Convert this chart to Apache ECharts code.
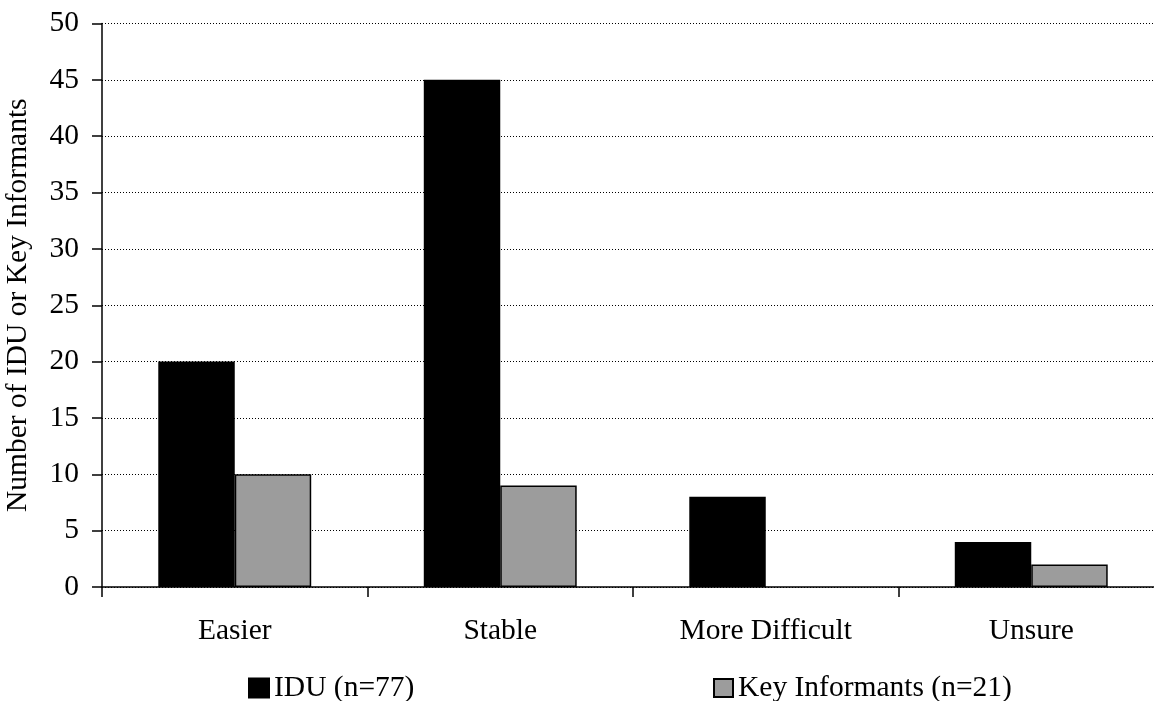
<!DOCTYPE html>
<html>
<head>
<meta charset="utf-8">
<script src="https://cdn.jsdelivr.net/npm/echarts@6/dist/echarts.min.js"></script>
<style>
  html, body { margin: 0; padding: 0; background: #fff; }
  #chart { width: 1154px; height: 701px; }
</style>
</head>
<body>
<div id="chart"></div>
<script>
// Outlook categories and respondent counts
const categories = ['Easier', 'Stable', 'More Difficult', 'Unsure'];
const iduCounts = [20, 45, 8, 4];
const keyInformantCounts = [10, 9, 0, 2];
const seriesNames = ['IDU (n=77)', 'Key Informants (n=21)'];
const yTicks = { min: 0, max: 50, step: 5 };
const yTitle = 'Number of IDU or Key Informants';

const FONT = '"Liberation Serif", "Times New Roman", serif';
const FS = 29.5;
const chart = echarts.init(document.getElementById('chart'), null, { renderer: 'canvas' });

const legendText = { fontFamily: FONT, fontSize: FS, color: '#000' };

// zero-valued bars get no outline so nothing shows on the baseline
function toBarData(values) {
  return values.map(v => v === 0
    ? { value: v, itemStyle: { borderWidth: 0 } }
    : v);
}

chart.setOption({
  animation: false,
  backgroundColor: '#fff',
  textStyle: { fontFamily: FONT, color: '#000' },
  grid: {
    left: 102, right: -10, top: 23.5, bottom: 114,
    containLabel: false, outerBoundsMode: 'none'
  },
  legend: [
    {
      data: [seriesNames[0]], left: 248, top: 673, padding: 0,
      itemWidth: 20, itemHeight: 19, itemGap: 6, icon: 'rect',
      textStyle: legendText
    },
    {
      data: [seriesNames[1]], left: 713, top: 673, padding: 0,
      itemWidth: 19, itemHeight: 18, itemGap: 6, icon: 'rect',
      textStyle: legendText
    }
  ],
  xAxis: {
    type: 'category',
    data: categories,
    boundaryGap: true,
    axisLine: { lineStyle: { color: '#000', width: 1.5 } },
    axisTick: { show: true, inside: false, length: 10, alignWithLabel: false, lineStyle: { color: '#000', width: 1.5 } },
    axisLabel: { fontFamily: FONT, fontSize: FS, color: '#000', margin: 29 },
    splitLine: { show: false }
  },
  yAxis: {
    type: 'value',
    min: yTicks.min, max: yTicks.max, interval: yTicks.step,
    name: yTitle,
    nameLocation: 'middle',
    nameGap: 69,
    nameTextStyle: { fontFamily: FONT, fontSize: FS, color: '#000' },
    axisLine: { show: true, lineStyle: { color: '#000', width: 1.5 } },
    axisTick: { show: true, inside: false, length: 10, lineStyle: { color: '#000', width: 1.5 } },
    axisLabel: { fontFamily: FONT, fontSize: FS, color: '#000', margin: 23 },
    splitLine: { show: true, lineStyle: { color: '#000', width: 1, type: [1, 2] } }
  },
  series: [
    {
      name: seriesNames[0], type: 'bar', data: toBarData(iduCounts),
      barGap: '0%', barCategoryGap: '42.4%',
      itemStyle: { color: '#000', borderColor: '#000', borderWidth: 1.5 }
    },
    {
      name: seriesNames[1], type: 'bar', data: toBarData(keyInformantCounts),
      barGap: '0%', barCategoryGap: '42.4%',
      itemStyle: { color: '#9c9c9c', borderColor: '#000', borderWidth: 1.5 }
    }
  ]
});
</script>
</body>
</html>
